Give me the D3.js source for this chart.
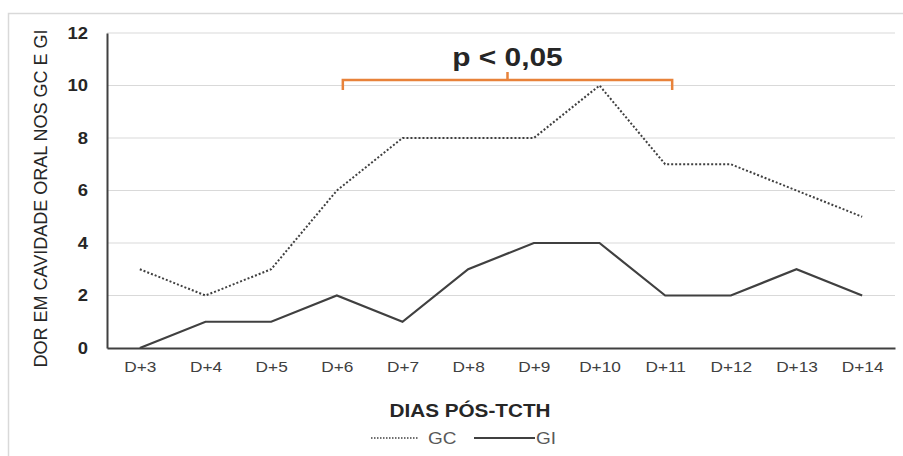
<!DOCTYPE html>
<html>
<head>
<meta charset="utf-8">
<script src="https://cdn.jsdelivr.net/npm/d3@7"></script>
<style>
  body { margin: 0; background: #fff; }
  svg { font-family: "Liberation Sans", Arial, sans-serif; }
</style>
</head>
<body>
<div id="wrapper"></div>
<script>
const days = ["D+3", "D+4", "D+5", "D+6", "D+7", "D+8", "D+9", "D+10", "D+11", "D+12", "D+13", "D+14"]
const gcValues = [3, 2, 3, 6, 8, 8, 8, 10, 7, 7, 6, 5]
const giValues = [0, 1, 1, 2, 1, 3, 4, 4, 2, 2, 3, 2]
const yTicks = [0, 2, 4, 6, 8, 10, 12]
const bracketRange = ["D+6", "D+11"]

// the source picture is a bit wider than tall, so horizontal text is stretched
const stretch = (sel, k) => sel.each(function () {
  const len = this.getComputedTextLength()
  d3.select(this)
    .attr("textLength", len * k)
    .attr("lengthAdjust", "spacingAndGlyphs")
})

function drawChart() {
  // 1. dimensions
  let dimensions = {
    width: 903,
    height: 456,
    margin: { top: 33, right: 8, bottom: 108, left: 107 },
  }
  dimensions.boundedWidth = dimensions.width - dimensions.margin.left - dimensions.margin.right
  dimensions.boundedHeight = dimensions.height - dimensions.margin.top - dimensions.margin.bottom

  const wrapper = d3.select("#wrapper")
    .append("svg")
      .attr("width", dimensions.width)
      .attr("height", dimensions.height)

  // frame
  wrapper.append("path")
    .attr("d", "M8.5,456 V13.5 H903")
    .attr("fill", "none")
    .attr("stroke", "#d9d9d9")
    .attr("stroke-width", 1.5)

  const bounds = wrapper.append("g")
    .attr("transform", `translate(${dimensions.margin.left}, ${dimensions.margin.top})`)

  // 2. scales
  const xScale = d3.scalePoint()
    .domain(days)
    .range([0, dimensions.boundedWidth])
    .padding(0.5)

  const yScale = d3.scaleLinear()
    .domain([0, 12])
    .range([dimensions.boundedHeight, 0])

  // 3. gridlines
  bounds.append("g")
    .selectAll("line")
    .data(yTicks.filter(d => d > 0))
    .join("line")
      .attr("x1", 0)
      .attr("x2", dimensions.boundedWidth)
      .attr("y1", d => yScale(d))
      .attr("y2", d => yScale(d))
      .attr("stroke", "#d9d9d9")
      .attr("stroke-width", 1)

  // 4. lines
  const lineGenerator = d3.line()
    .x((d, i) => xScale(days[i]))
    .y(d => yScale(d))

  bounds.append("path")
    .attr("d", lineGenerator(gcValues))
    .attr("fill", "none")
    .attr("stroke", "#404040")
    .attr("stroke-width", 2)
    .attr("stroke-dasharray", "2,2")

  bounds.append("path")
    .attr("d", lineGenerator(giValues))
    .attr("fill", "none")
    .attr("stroke", "#404040")
    .attr("stroke-width", 2.2)

  // 5. axes
  const xAxis = bounds.append("g")
    .attr("transform", `translate(0, ${dimensions.boundedHeight})`)
    .call(d3.axisBottom(xScale).tickSize(0).tickPadding(13))
  xAxis.select(".domain").attr("stroke", "#404040").attr("stroke-width", 2)
  xAxis.selectAll("text")
    .attr("fill", "#404040")
    .style("font-family", "'Liberation Sans', Arial, sans-serif")
    .style("font-size", "15px")
    .call(stretch, 1.15)

  const yAxis = bounds.append("g")
    .call(d3.axisLeft(yScale).tickValues(yTicks).tickSize(0).tickPadding(19))
  yAxis.select(".domain").attr("stroke", "#404040").attr("stroke-width", 2)
  yAxis.selectAll("text")
    .attr("fill", "#262626")
    .style("font-family", "'Liberation Sans', Arial, sans-serif")
    .style("font-size", "16px")
    .style("font-weight", "bold")
    .call(stretch, 1.15)

  // axis titles
  wrapper.append("text")
    .attr("transform", `translate(47, ${dimensions.margin.top + dimensions.boundedHeight / 2 + 8}) rotate(-90)`)
    .attr("text-anchor", "middle")
    .attr("fill", "#262626")
    .attr("textLength", 338)
    .attr("lengthAdjust", "spacingAndGlyphs")
    .style("font-size", "19px")
    .text("DOR EM CAVIDADE ORAL NOS GC E GI")

  wrapper.append("text")
    .attr("x", 470)
    .attr("y", 417)
    .attr("text-anchor", "middle")
    .attr("fill", "#262626")
    .style("font-size", "18px")
    .style("font-weight", "bold")
    .text("DIAS PÓS-TCTH")
    .call(stretch, 1.15)

  // 6. significance bracket
  const bx1 = xScale(bracketRange[0]) + 6
  const bx2 = xScale(bracketRange[1]) + 7
  const by = 47
  const bmid = (bx1 + bx2) / 2
  bounds.append("path")
    .attr("d", `M${bx1},${by + 10} V${by} H${bx2} V${by + 10} M${bmid},${by} V${by - 8}`)
    .attr("fill", "none")
    .attr("stroke", "#e8823a")
    .attr("stroke-width", 2.5)

  bounds.append("text")
    .attr("x", bmid)
    .attr("y", by - 14)
    .attr("text-anchor", "middle")
    .attr("fill", "#262626")
    .style("font-size", "26px")
    .style("font-weight", "bold")
    .text("p < 0,05")
    .call(stretch, 1.15)

  // 7. legend
  const legend = wrapper.append("g")
    .attr("transform", "translate(0, 438)")
  const legendItems = [
    { label: "GC", x: 371, dash: "1.5,1.5" },
    { label: "GI", x: 474, dash: null },
  ]
  legendItems.forEach(item => {
    legend.append("line")
      .attr("x1", item.x)
      .attr("x2", item.x + (item.dash ? 47 : 61))
      .attr("y1", 0)
      .attr("y2", 0)
      .attr("stroke", "#404040")
      .attr("stroke-width", item.dash ? 1.5 : 2)
      .attr("stroke-dasharray", item.dash)
    legend.append("text")
      .attr("x", item.dash ? 428 : 536)
      .attr("y", 6)
      .attr("fill", "#595959")
      .style("font-size", "16.5px")
      .text(item.label)
      .call(stretch, 1.15)
  })
}
drawChart()
</script>
</body>
</html>
